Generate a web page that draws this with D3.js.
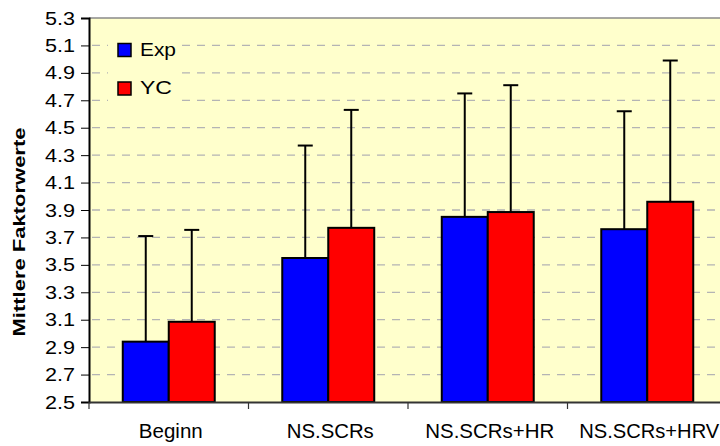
<!DOCTYPE html>
<html>
<head>
<meta charset="utf-8">
<script src="https://cdn.jsdelivr.net/npm/d3@7"></script>
<style>
  html, body { margin: 0; padding: 0; background: #ffffff; }
  svg { display: block; font-family: "Liberation Sans", Arial, sans-serif; }
</style>
</head>
<body>
<svg id="chart" width="720" height="446"></svg>
<script>
// ---- data ----
const categories = ["Beginn", "NS.SCRs", "NS.SCRs+HR", "NS.SCRs+HRV"];
const seriesNames = ["Exp", "YC"];
const expMeans = [2.94, 3.55, 3.85, 3.76];
const expSD    = [0.77, 0.82, 0.90, 0.86];
const ycMeans  = [3.085, 3.77, 3.885, 3.96];
const ycSD     = [0.67, 0.86, 0.925, 1.03];
const seriesColors = ["#0000FF", "#FF0000"];
const yTicks = [2.5, 2.7, 2.9, 3.1, 3.3, 3.5, 3.7, 3.9, 4.1, 4.3, 4.5, 4.7, 4.9, 5.1, 5.3];
const yTitle = "Mittlere Faktorwerte";
const xLabelWidths = [64, 87, 129, 140];

const series = [
  { name: seriesNames[0], means: expMeans, sd: expSD, color: seriesColors[0] },
  { name: seriesNames[1], means: ycMeans, sd: ycSD, color: seriesColors[1] }
];

const FONT = "'Liberation Sans', Arial, sans-serif";

// ---- layout ----
const svg = d3.select("#chart");
const plotLeft = 89, plotTop = 18, plotBottom = 402;
const step = 159.5;
const plotRight = plotLeft + step * categories.length;

const x0 = d3.scaleBand().domain(categories).range([plotLeft, plotRight]).paddingInner(0).paddingOuter(0);
const x1 = d3.scaleBand().domain(seriesNames).range([0, x0.bandwidth()]).paddingInner(0).paddingOuter(0.734);
const y = d3.scaleLinear().domain([2.5, 5.3]).range([plotBottom, plotTop]);

// plot background
svg.append("rect")
  .attr("x", plotLeft).attr("y", plotTop)
  .attr("width", plotRight - plotLeft).attr("height", plotBottom - plotTop)
  .attr("fill", "#FFFFCC");

// gridlines
svg.append("g").selectAll("line")
  .data(yTicks.filter(t => t > 2.5 && t < 5.3))
  .join("line")
  .attr("x1", plotLeft + 3).attr("x2", plotRight)
  .attr("y1", d => y(d)).attr("y2", d => y(d))
  .attr("stroke", "#b4b4b4").attr("stroke-width", 1.3)
  .attr("stroke-dasharray", "8,7");

// top border
svg.append("line")
  .attr("x1", plotLeft).attr("x2", plotRight)
  .attr("y1", plotTop).attr("y2", plotTop)
  .attr("stroke", "#8a8a8a").attr("stroke-width", 1.5);

// legend background (hides gridlines)
svg.append("rect")
  .attr("x", 108).attr("y", 28).attr("width", 74).attr("height", 76)
  .attr("fill", "#FFFFCC");

// bars
const groups = svg.append("g").selectAll("g")
  .data(categories)
  .join("g")
  .attr("transform", d => `translate(${x0(d)},0)`);

groups.each(function(cat, i) {
  const g = d3.select(this);
  series.forEach(s => {
    const bx = x1(s.name);
    const bw = x1.bandwidth();
    const cx = bx + bw / 2;
    const top = s.means[i] + s.sd[i];
    g.append("line")
      .attr("x1", cx).attr("x2", cx)
      .attr("y1", y(s.means[i])).attr("y2", y(top))
      .attr("stroke", "#000").attr("stroke-width", 2);
    g.append("line")
      .attr("x1", cx - 7.5).attr("x2", cx + 7.5)
      .attr("y1", y(top)).attr("y2", y(top))
      .attr("stroke", "#000").attr("stroke-width", 2);
    g.append("rect")
      .attr("x", bx).attr("y", y(s.means[i]))
      .attr("width", bw).attr("height", plotBottom - y(s.means[i]))
      .attr("fill", s.color)
      .attr("stroke", "#000").attr("stroke-width", 2);
  });
});

// y axis
const yAxis = d3.axisLeft(y).tickValues(yTicks).tickFormat(d3.format(".1f")).tickSize(8).tickPadding(6);
const yg = svg.append("g").attr("transform", `translate(${plotLeft},0)`).call(yAxis);
yg.select(".domain").attr("stroke", "#000").attr("stroke-width", 2);
yg.selectAll(".tick line").attr("stroke", "#000").attr("stroke-width", 1);
yg.selectAll(".tick text")
  .attr("font-size", 19).attr("fill", "#000")
  .attr("font-family", FONT)
  .attr("textLength", 30).attr("lengthAdjust", "spacingAndGlyphs")
  .attr("dy", "0.32em");

// x axis
const xAxis = d3.axisBottom(x0).tickSize(0).tickFormat("");
const xg = svg.append("g").attr("transform", `translate(0,${plotBottom})`).call(xAxis);
xg.select(".domain").attr("stroke", "#333").attr("stroke-width", 2);
svg.append("g").selectAll("line")
  .data(categories)
  .join("line")
  .attr("x1", d => x0(d)).attr("x2", d => x0(d))
  .attr("y1", plotBottom).attr("y2", plotBottom + 7)
  .attr("stroke", "#333").attr("stroke-width", 1.2);

// x labels
svg.append("g").selectAll("text")
  .data(categories)
  .join("text")
  .attr("x", d => x0(d) + x0.bandwidth() / 2 + 2)
  .attr("y", 438)
  .attr("text-anchor", "middle")
  .attr("font-family", FONT)
  .attr("font-size", 19.5)
  .attr("fill", "#000")
  .attr("textLength", (d, i) => xLabelWidths[i])
  .attr("lengthAdjust", "spacingAndGlyphs")
  .text(d => d);

// y title
svg.append("text")
  .attr("transform", "translate(25,232) rotate(-90)")
  .attr("text-anchor", "middle")
  .attr("font-family", FONT)
  .attr("font-size", 16).attr("font-weight", "bold")
  .attr("fill", "#000")
  .attr("textLength", 209).attr("lengthAdjust", "spacingAndGlyphs")
  .text(yTitle);

// legend
const legend = svg.append("g").selectAll("g")
  .data(series)
  .join("g")
  .attr("transform", (d, i) => `translate(118,${43.5 + i * 38.5})`);
legend.append("rect")
  .attr("width", 13).attr("height", 13)
  .attr("fill", d => d.color)
  .attr("stroke", "#000").attr("stroke-width", 1.5);
legend.append("text")
  .attr("x", 22).attr("y", 12)
  .attr("font-family", FONT)
  .attr("font-size", 19).attr("fill", "#000")
  .attr("textLength", (d, i) => i === 0 ? 36 : 32)
  .attr("lengthAdjust", "spacingAndGlyphs")
  .text(d => d.name);
</script>
</body>
</html>
